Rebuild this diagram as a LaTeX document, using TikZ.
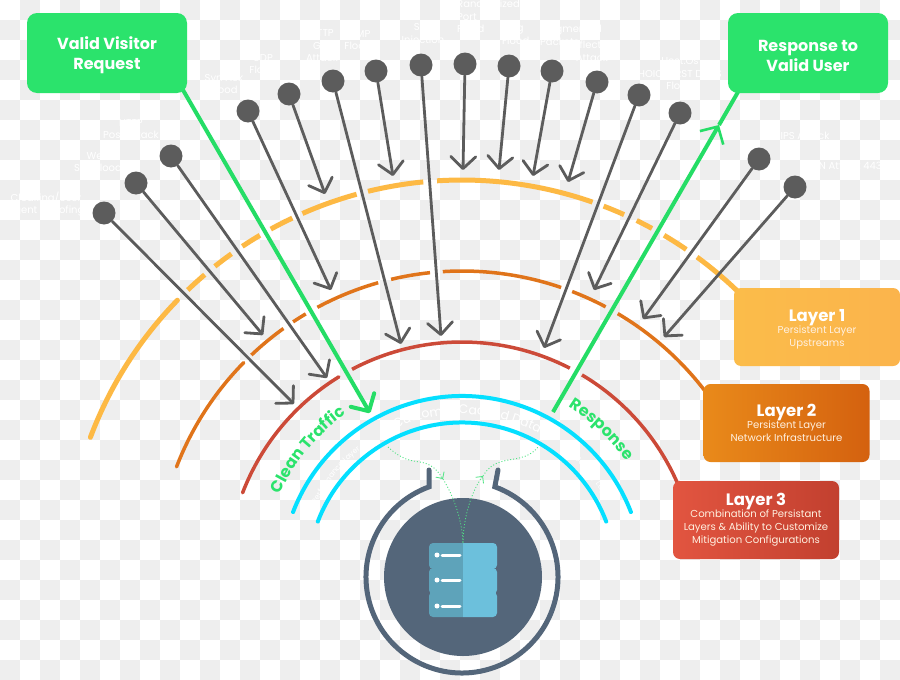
\documentclass[tikz,border=0pt]{standalone}
\usepackage{fontspec}
\setmainfont{Poppins}
\usetikzlibrary{arrows.meta,decorations.text,calc}
\definecolor{chk}{HTML}{EEEEEE}
\definecolor{grn}{HTML}{2BE36C}
\definecolor{grnl}{HTML}{25DD66}
\definecolor{cya}{HTML}{05DFFF}
\definecolor{yel}{HTML}{FDB944}
\definecolor{org}{HTML}{E0741A}
\definecolor{rdd}{HTML}{CC4A38}
\definecolor{gry}{HTML}{5C5C5C}
\definecolor{slate}{HTML}{54667A}
\definecolor{srvl}{HTML}{5EA3BA}
\definecolor{srvr}{HTML}{6CC0DC}
\definecolor{pal}{HTML}{FFF0E0}
\definecolor{layA}{HTML}{FBBC4A}
\definecolor{layB}{HTML}{FBB44C}
\definecolor{layC}{HTML}{E98A1A}
\definecolor{layD}{HTML}{D4610F}
\definecolor{layE}{HTML}{E25540}
\definecolor{layF}{HTML}{C2402F}
\tikzset{
  pinball/.style={circle,fill=gry,inner sep=0pt,minimum size=23pt},
  atk/.style={draw=gry,line width=2.8pt,line cap=round,-{Straight Barb[length=12pt,width=25pt,line width=2.8pt,round]}},
  greenbox/.style={fill=grn,rounded corners=10pt,minimum width=160pt,minimum height=80pt,inner sep=0pt,text=white,align=center,font=\fontsize{16}{20}\selectfont\bfseries},
  layerbox/.style={rounded corners=7pt,minimum width=166pt,minimum height=78pt,inner sep=0pt,text=pal,align=center,font=\fontsize{10.1}{13}\selectfont},
  greenline/.style={draw=grnl,line width=4pt},
  dotgreen/.style={draw=grnl!80!white,line width=0.9pt,dash pattern=on 1pt off 2pt,-{Straight Barb[length=5pt,width=10pt,line width=0.8pt]}},
  dotplain/.style={draw=grnl!80!white,line width=0.9pt,dash pattern=on 1pt off 2pt},
  faint/.style={text=white,font=\fontsize{10}{12.5}\selectfont,align=center,inner sep=0pt},
  seg/.style={line cap=butt}
}
% ring piece: colour/width, radius, start angle, end angle
\newcommand{\ringseg}[4]{\draw[#1] ([shift={(#3:#2pt)}]cc) arc[start angle=#3,end angle=#4,radius=#2pt];}
\newcommand{\ltitle}[1]{{\fontsize{16.5}{17}\selectfont\bfseries\color{white}#1}}
\begin{document}
\begin{tikzpicture}[x=1pt,y=-1pt]
\useasboundingbox (0,0) rectangle (900,680);
\clip (0,0) rectangle (900,680);
\fill[white] (0,0) rectangle (900,680);
% transparency checkerboard of the picture
\foreach \r in {0,...,33}{\foreach \c in {0,...,44}{%
  \pgfmathparse{int(mod(\r+\c,2))}%
  \ifnum\pgfmathresult=1 \fill[chk] (\c*20,\r*20) rectangle (\c*20+20,\r*20+20);\fi}}
\coordinate (cc) at (462,577);
% faint white labels
\node[faint] (f1) at (46,204) {Cloaking/User\\Agent Spoofing};
\node[faint] (f2) at (98,163) {Web\\Syn Flood};
\node[faint] (f3) at (131,129) {HTTP\\Post Attack};
\node[faint] (f4) at (224,84) {Syn Ack\\Flood};
\node[faint] (f5) at (263,64) {UDP\\Flood};
\node[faint] (f6) at (322,46) {HTTP\\Get\\Attack};
\node[faint] (f7) at (358,40) {ICMP\\Flood};
\node[faint] (f8) at (423,35) {SQL\\Injection};
\node[faint,align=left,anchor=north west] (f9) at (457,0) {Randomized\\Port\\Flood};
\node[faint,align=left,anchor=north west] (f10) at (502,24) {Ping\\Flood};
\node[faint,align=left,anchor=north west] (f11) at (540,25) {Fragmented\\Packets};
\node[faint] (f12) at (592,51) {Reflection\\Attack};
\node[faint] (f13) at (680,74) {Host.Os\\HOIC/FIRST DDoS\\Flood};
\node[faint] (f14) at (805,136) {IPS Attack};
\node[faint,anchor=east] (f15) at (882,166) {SYN Attack 443};
% rings
\tikzset{ylw/.style={draw=yel,line width=5pt,seg}}
\draw[draw=yel,line width=5pt,line cap=round] ([shift={(159.4:397pt)}]cc) arc[start angle=159.4,end angle=135.8,radius=397pt];
\ringseg{ylw}{397}{133.7}{130.4}
\ringseg{ylw}{397}{128.5}{125.5}
\ringseg{ylw}{397}{123.6}{120.6}
\ringseg{ylw}{397}{118.8}{115.3}
\ringseg{ylw}{397}{113.7}{105.4}
\ringseg{ylw}{397}{103.7}{95.6}
\ringseg{ylw}{397}{93.6}{70.8}
\ringseg{ylw}{397}{69.1}{65.9}
\ringseg{ylw}{397}{63.9}{61.4}
\ringseg{ylw}{397}{59.4}{55.6}
\ringseg{ylw}{397}{53.7}{45}
\tikzset{orng/.style={draw=org,line width=3.5pt,seg}}
\draw[draw=org,line width=3.5pt,line cap=round] ([shift={(158.9:306pt)}]cc) arc[start angle=158.9,end angle=135.5,radius=306pt];
\ringseg{orng}{306}{133.5}{125.7}
\ringseg{orng}{306}{123.5}{120.7}
\ringseg{orng}{306}{118.2}{105.9}
\ringseg{orng}{306}{103.4}{96}
\ringseg{orng}{306}{93.6}{71.1}
\ringseg{orng}{306}{68.9}{62}
\ringseg{orng}{306}{59.4}{36}
\tikzset{redd/.style={draw=rdd,line width=3.5pt,seg}}
\draw[draw=rdd,line width=3.5pt,line cap=round] ([shift={(159:235pt)}]cc) arc[start angle=159,end angle=121.6,radius=235pt];
\ringseg{redd}{235}{117.9}{62.7}
\ringseg{redd}{235}{59.3}{22}
\draw[draw=cya,line width=4pt,line cap=round] ([shift={(159:181pt)}]cc) arc[start angle=159,end angle=21,radius=181pt];
\draw[draw=cya,line width=4pt,line cap=round] ([shift={(159:154.5pt)}]cc) arc[start angle=159,end angle=21,radius=154.5pt];
% texts along the rings
\path[decorate,decoration={text along path,text align=center,text={|\fontsize{16}{16}\selectfont\bfseries\color{grn}|Clean Traffic}}] ([shift={(162:200pt)}]cc) arc[start angle=162,end angle=119,radius=200pt];
\path[decorate,decoration={text along path,text align=center,text={|\fontsize{16}{16}\selectfont\bfseries\color{grn}|Response}}] ([shift={(66:201pt)}]cc) arc[start angle=66,end angle=27,radius=201pt];
\path[decorate,decoration={text along path,text align=center,text={|\fontsize{12.5}{13}\selectfont\color{white}|Customer Cached Data}}] ([shift={(122:163pt)}]cc) arc[start angle=122,end angle=54,radius=163pt];
\path[decorate,decoration={text along path,text align=center,text={|\fontsize{7.5}{8}\selectfont\color{white}|Performance Layer}}] ([shift={(160:163pt)}]cc) arc[start angle=160,end angle=122,radius=163pt];
\path[decorate,decoration={text along path,text align=center,text={|\fontsize{7.5}{8}\selectfont\color{white}|Security Layer}}] ([shift={(52:163pt)}]cc) arc[start angle=52,end angle=22,radius=163pt];
% green traffic lines, then the boxes over their ends
\coordinate (lstart) at (183,90);
\coordinate (lend) at (370,413);
\coordinate (rstart) at (553,412);
\coordinate (rtip) at (719,125);
\coordinate (rend) at (738,92);
\draw[greenline,-{Straight Barb[length=13pt,width=27pt,line width=4pt,round]}] (lstart) -- (lend);
\draw[draw=grnl,line width=4pt,-{Straight Barb[length=13pt,width=27pt,line width=2.6pt]}] (rstart) -- (rtip);
\draw[greenline] (rtip) -- (rend);
\node[greenbox] (lbox) at (107,53) {\rule{0pt}{17pt}Valid Visitor\\Request};
\node[greenbox] (rbox) at (808,53) {\rule{0pt}{17pt}Response to\\Valid User};
% attack pins and arrows
\node[pinball] (p1) at (104,213) {}; \coordinate (t1) at (294,404); \draw[atk] (p1) -- (t1);
\node[pinball] (p2) at (136,183) {}; \coordinate (t2) at (263,335); \draw[atk] (p2) -- (t2);
\node[pinball] (p3) at (171,156) {}; \coordinate (t3) at (327,378); \draw[atk] (p3) -- (t3);
\node[pinball] (p4) at (248,111) {}; \coordinate (t4) at (331,290); \draw[atk] (p4) -- (t4);
\node[pinball] (p5) at (289,94) {}; \coordinate (t5) at (325,194); \draw[atk] (p5) -- (t5);
\node[pinball] (p6) at (333,81) {}; \coordinate (t6) at (401,344); \draw[atk] (p6) -- (t6);
\node[pinball] (p7) at (376,71) {}; \coordinate (t7) at (393,176); \draw[atk] (p7) -- (t7);
\node[pinball] (p8) at (421,65) {}; \coordinate (t8) at (441,336); \draw[atk] (p8) -- (t8);
\node[pinball] (p9) at (465,64) {}; \coordinate (t9) at (463,170); \draw[atk] (p9) -- (t9);
\node[pinball] (p10) at (509,66) {}; \coordinate (t10) at (499,170); \draw[atk] (p10) -- (t10);
\node[pinball] (p11) at (552,71) {}; \coordinate (t11) at (533,176); \draw[atk] (p11) -- (t11);
\node[pinball] (p12) at (597,82) {}; \coordinate (t12) at (568,182); \draw[atk] (p12) -- (t12);
\node[pinball] (p13) at (639,95) {}; \coordinate (t13) at (544,348); \draw[atk] (p13) -- (t13);
\node[pinball] (p14) at (680,113) {}; \coordinate (t14) at (594,290); \draw[atk] (p14) -- (t14);
\node[pinball] (p15) at (759,159) {}; \coordinate (t15) at (643,319); \draw[atk] (p15) -- (t15);
\node[pinball] (p16) at (795,187) {}; \coordinate (t16) at (664,337); \draw[atk] (p16) -- (t16);
% protected server
\draw[draw=slate,line width=5pt,line cap=round,line join=miter] (429,470) -- ([shift={(110:96pt)}]cc) arc[start angle=110,end angle=430,radius=96pt] -- (498,470);
\node[circle,fill=slate,inner sep=0pt,minimum size=158pt] (disk) at (463,577) {};
\begin{scope}
\clip (429,540) rectangle (463,620);
\fill[srvl,rounded corners=4pt] (429,543) rectangle (497,569);
\fill[srvl,rounded corners=4pt] (429,568) rectangle (497,594);
\fill[srvl,rounded corners=4pt] (429,592) rectangle (497,617);
\end{scope}
\begin{scope}
\clip (463,540) rectangle (500,620);
\fill[srvr,rounded corners=4pt] (429,543) rectangle (497,569);
\fill[srvr,rounded corners=4pt] (429,568) rectangle (497,594);
\fill[srvr,rounded corners=4pt] (429,592) rectangle (497,617);
\end{scope}
\fill[white] (437,555) circle[radius=2.5pt] (437,580) circle[radius=2.5pt] (437,606) circle[radius=2.5pt];
\draw[white,line width=3pt,line cap=round] (442,555) -- (460,555) (442,580) -- (460,580) (442,606) -- (460,606);
\coordinate (srvtop) at (463,543);
\coordinate (la) at (388,447);
\coordinate (lb) at (443,479);
\coordinate (rb) at (483,476);
\coordinate (ra) at (538,447);
\draw[dotgreen] (la) .. controls (402,460) and (412,461) .. (420,462) .. controls (432,464) and (437,470) .. (lb);
\draw[dotplain] (lb) .. controls (450,490) and (462,515) .. (srvtop);
\draw[dotgreen] (srvtop) .. controls (463,518) and (472,490) .. (rb);
\draw[dotplain] (rb) .. controls (488,468) and (492,465) .. (500,462) .. controls (512,458) and (528,460) .. (ra);
% layer boxes
\node[layerbox,left color=layA,right color=layB] (l1) at (817,327) {\rule{0pt}{16pt}\ltitle{Layer 1}\\[-1pt]Persistent Layer\\Upstreams};
\node[layerbox,left color=layC,right color=layD] (l2) at (786.5,423) {\ltitle{Layer 2}\\[-1pt]Persistent Layer\\Network Infrastructure};
\node[layerbox,left color=layE,right color=layF] (l3) at (756,520) {\ltitle{Layer 3}\\[-1pt]Combination of Persistant\\Layers \& Ability to Customize\\Mitigation Configurations};
\end{tikzpicture}
\end{document}
